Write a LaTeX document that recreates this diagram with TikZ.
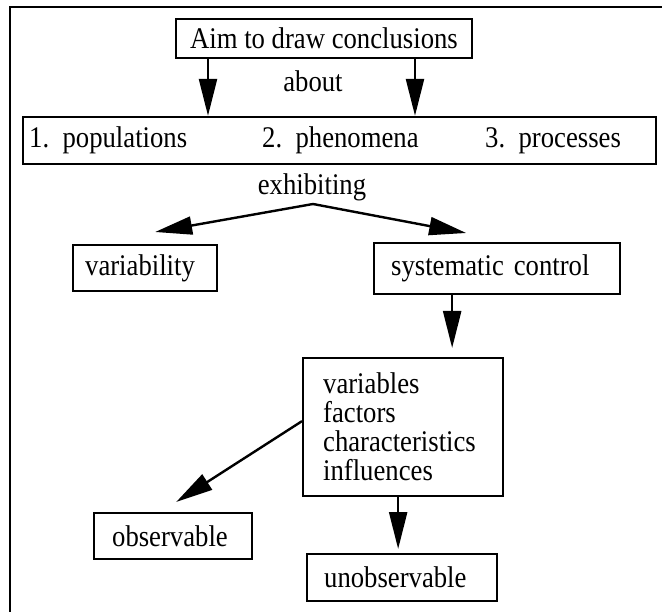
\documentclass[tikz,border=0pt]{standalone}
\usepackage{fontspec}
\setmainfont{Liberation Serif}[FakeStretch=0.89]
\usetikzlibrary{arrows.meta}

\begin{document}
\begin{tikzpicture}[x=1pt,y=-1pt,
  every node/.style={font=\fontsize{30}{29}\selectfont},
  box/.style={draw, line width=2.3pt, inner sep=0pt, align=left},
  lbl/.style={inner sep=0pt},
  arr/.style={line width=2.4pt, -{Triangle[length=37pt,width=18pt]}}]

\useasboundingbox (0,0) rectangle (662,612);

% outer frame (top and left edges)
\draw[line width=2.5pt] (662,7) -- (10,7) -- (10,612);

% boxes
\node[box, minimum width=296pt, minimum height=39pt] (aim) at (324,38.5) {Aim to draw conclusions};
\node[box, minimum width=633pt, minimum height=47pt] (list) at (339.5,140.5) {};
\node[lbl, anchor=base west] (p1) at (29,148) {1.\ \ populations};
\node[lbl, anchor=base west] (p2) at (262,148) {2.\ \ phenomena};
\node[lbl, anchor=base west] (p3) at (485,148) {3.\ \ processes};

\node[lbl, anchor=base] (about) at (313,92) {about};
\node[lbl, anchor=base] (exhib) at (312,195) {exhibiting};
\coordinate (fork) at (313,204);

\node[box, anchor=north west, inner xsep=12pt, text width=120pt, minimum height=46pt] (var) at (72,244) {variability};
\node[box, anchor=north west, inner xsep=17pt, text width=212pt, minimum height=51pt] (sys) at (373,242) {systematic control};

\node[box, anchor=north west, inner xsep=20pt, text width=160pt, minimum height=138pt] (vars) at (302,357)
  {variables\\factors\\characteristics\\influences};

\node[box, anchor=north west, inner xsep=18pt, text width=122pt, minimum height=46pt] (obs) at (93,512) {observable};
\node[box, anchor=north west, inner xsep=17pt, text width=156pt, minimum height=47pt] (unobs) at (306,553) {unobservable};

% connectors
\draw[arr] ([xshift=-116pt]aim.south) -- ([xshift=-116pt]aim.south |- list.north);
\draw[arr] ([xshift=91pt]aim.south) -- ([xshift=91pt]aim.south |- list.north);

\draw[arr] (fork) -- ([xshift=10pt,yshift=12pt]var.north);
\draw[arr] (fork) -- ([xshift=-31pt,yshift=9pt]sys.north);

\draw[arr, shorten >=9pt] ([xshift=-45pt]sys.south) -- ([xshift=-45pt]sys.south |- vars.north);

\draw[arr] ([yshift=6pt]vars.west) -- ([xshift=3pt,yshift=10pt]obs.north);
\draw[arr, shorten >=4pt] ([xshift=-5pt]vars.south) -- ([xshift=-5pt]vars.south |- unobs.north);

\end{tikzpicture}
\end{document}
